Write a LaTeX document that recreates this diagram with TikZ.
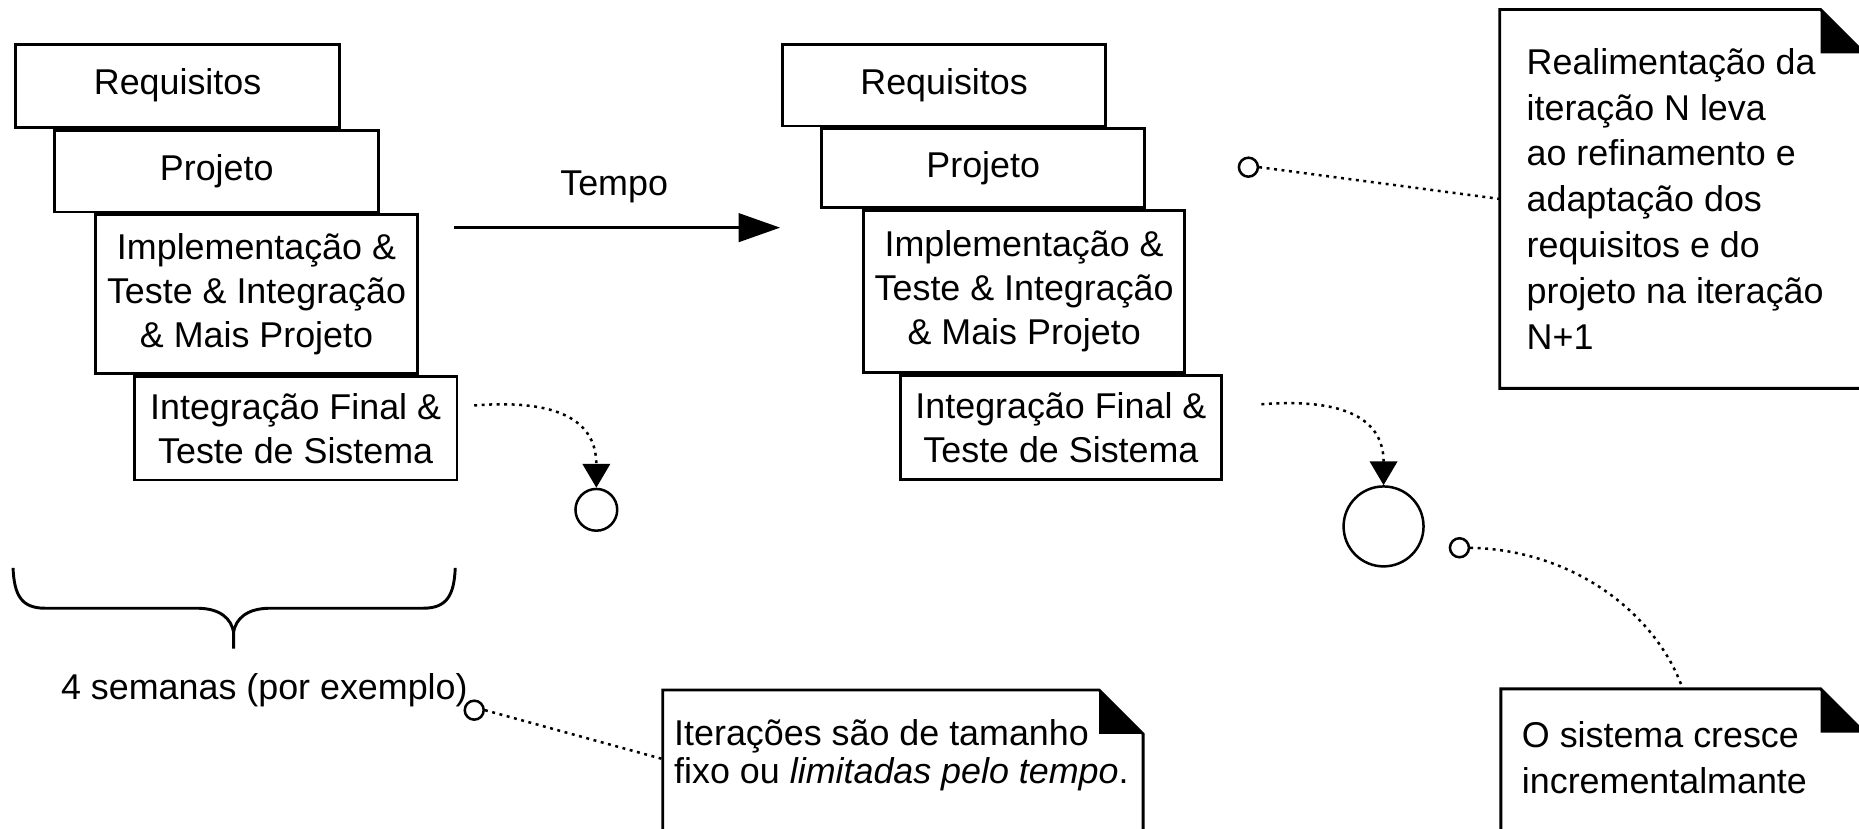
\documentclass[tikz,border=0pt]{standalone}
\usepackage{fontspec}
\setmainfont{Liberation Sans}
\usetikzlibrary{arrows.meta,positioning}

\begin{document}
\begin{tikzpicture}[x=0.01cm, y=-0.01cm,
    every node/.style={font=\fontsize{8.6}{10.5}\selectfont},
    phase/.style={draw, line width=0.7pt, fill=white, inner sep=0pt, align=center, anchor=north west},
    frame/.style={anchor=north west, inner sep=0pt},
    memo/.style={anchor=north west, inner sep=0pt, align=left},
    knob/.style={circle, draw, line width=0.6pt, inner sep=0pt, minimum size=0.16cm},
    output/.style={circle, draw, line width=0.6pt, inner sep=0pt},
    link/.style={line width=0.6pt, dash pattern=on 0.7pt off 1.1pt},
    >={Triangle[length=0.2cm, width=0.23cm]}]
\useasboundingbox (0,0) rectangle (1568,699);
\clip (0,0) rectangle (1568,699);

% iteracao N
\node[phase, minimum width=2.73cm, minimum height=0.70cm] (req1) at (12,36) {Requisitos};
\node[phase, minimum width=2.73cm, minimum height=0.69cm] (proj1) at ([xshift=0.33cm]req1.south west) {Projeto};
\node[phase, minimum width=2.72cm, minimum height=1.34cm] (impl1) at ([xshift=0.34cm]proj1.south west) {Implementação \&\\Teste \& Integração\\\& Mais Projeto};
\node[phase, minimum width=2.72cm, minimum height=0.87cm] (fin1) at ([xshift=0.33cm]impl1.south west) {Integração Final \&\\Teste de Sistema};

% iteracao N+1
\node[phase, minimum width=2.72cm, minimum height=0.69cm] (req2) at (659,36) {Requisitos};
\node[phase, minimum width=2.72cm, minimum height=0.66cm] (proj2) at ([xshift=0.33cm]req2.south west) {Projeto};
\node[phase, minimum width=2.71cm, minimum height=1.37cm] (impl2) at ([xshift=0.35cm]proj2.south west) {Implementação \&\\Teste \& Integração\\\& Mais Projeto};
\node[phase, minimum width=2.71cm, minimum height=0.875cm] (fin2) at ([xshift=0.31cm]impl2.south west) {Integração Final \&\\Teste de Sistema};

% tempo
\coordinate (t0) at (383,192);
\coordinate (t1) at (658,192);
\draw[line width=0.7pt, -{Triangle[length=0.35cm, width=0.24cm]}] (t0) -- (t1);
\node (tempo) at (518,158) {Tempo};

% sistema
\node[output, minimum size=0.352cm] (out1) at (503,430) {};
\node[output, minimum size=0.674cm] (out2) at (1167,444) {};
\coordinate (s1) at (400,342);
\coordinate (s2) at (1064,341);
\draw[link, ->] (s1) .. controls (462,337) and (503,350) .. (out1.north);
\draw[link, ->] (s2) .. controls (1128,336) and (1167,350) .. (out2.north);

% chave
\draw[line width=0.7pt] (11,479) .. controls (12,502) and (18,513) .. (38,513) -- (166,513)
    .. controls (186,513) and (195,522) .. (197,533) -- (197,547);
\draw[line width=0.7pt] (384,479) .. controls (383,502) and (377,513) .. (357,513) -- (228,513)
    .. controls (208,513) and (199,522) .. (197,533);
\node (weeks) at (223,582) {4 semanas (por exemplo)};

% notas
\node[frame, minimum width=3.06cm, minimum height=3.18cm] (note1) at (1265,8) {};
\node[frame, minimum width=4.035cm, minimum height=1.25cm] (note2) at (559,582) {};
\node[frame, minimum width=3.05cm, minimum height=1.25cm] (note3) at (1266,581) {};
\foreach \n in {note1,note2,note3}
{
    \draw[line width=0.7pt] (\n.south west) -- (\n.north west) -- ([xshift=-0.37cm]\n.north east)
        -- ([yshift=-0.37cm]\n.north east) -- (\n.south east) -- cycle;
    \fill ([xshift=-0.37cm]\n.north east) -- ([yshift=-0.37cm]\n.north east)
        -- ([xshift=-0.37cm, yshift=-0.37cm]\n.north east) -- cycle;
}
\node[memo, font=\fontsize{8.6}{11}\selectfont] (memo1) at (1287,40) {Realimentação da\\iteração N leva\\ao refinamento e\\adaptação dos\\requisitos e do\\projeto na iteração\\N+1};
\node[memo, font=\fontsize{8.6}{7.4}\selectfont] (memo2) at (568,606) {Iterações são de tamanho\\fixo ou \textit{limitadas pelo tempo}.};
\node[memo, font=\fontsize{8.6}{11}\selectfont] (memo3) at (1283,608) {O sistema cresce\\incrementalmante};

\node[knob] (k1) at (1053,141) {};
\node[knob] (k2) at (1231,462) {};
\node[knob] (k3) at (400,599) {};
\draw[link] (k1.east) -- (note1.west);
\draw[link] (k2.east) .. controls (1330,464) and (1398,520) .. (note3.north);
\draw[link] (k3.east) -- ([yshift=0.05cm]note2.west);

\end{tikzpicture}
\end{document}
